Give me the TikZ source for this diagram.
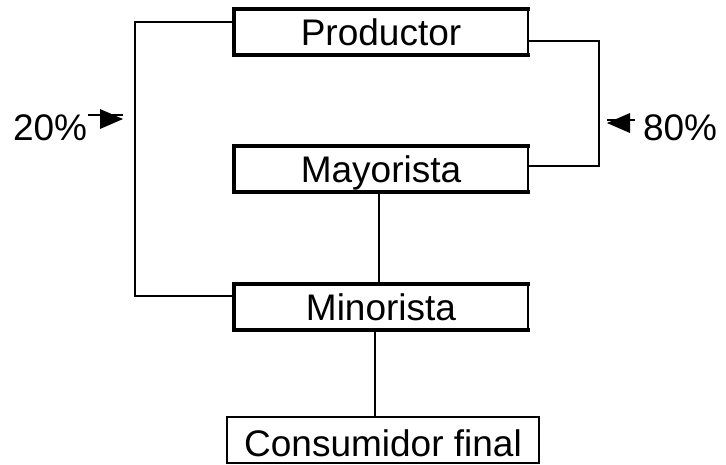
\documentclass[tikz,border=0pt]{standalone}
\usepackage{fontspec}
\setmainfont{Liberation Sans}
\begin{document}
\begin{tikzpicture}[x=1pt,y=-1pt,
  every node/.style={inner sep=0pt, outer sep=0pt, font=\fontsize{37}{40}\selectfont},
  stagebox/.style={minimum width=294pt, minimum height=46pt, text height=27pt, text depth=0pt},
  heavyedge/.style={line width=3.6pt, line cap=rect},
  lightedge/.style={line width=1.6pt},
  link/.style={line width=1.6pt},
  tip/.style={fill=black}]
\useasboundingbox (0,0) rectangle (726,464);

% channel stages
\node[stagebox] (prod) at (381,32) {Productor};
\node[stagebox] (may)  at (381,169) {Mayorista};
\node[stagebox] (min)  at (381,307) {Minorista};
\node[minimum width=312pt, minimum height=46pt, text height=33pt, text depth=0pt]
  (cons) at (383,440) {Consumidor final};

% stage frames: heavy top, left and bottom, light right side
\foreach \b in {prod,may,min}{
  \draw[heavyedge] (\b.north east) -- (\b.north west) -- (\b.south west) -- (\b.south east);
  \draw[lightedge] (\b.north east) -- (\b.south east);
}
\draw[lightedge] (cons.south west) rectangle (cons.north east);

% direct route producer -> retailer (left bracket)
\coordinate (lt) at (135,22);
\coordinate (lb) at (135,296);
\draw[link] (prod.west |- lt) -- (lt) -- (lb) -- (min.west |- lb);

% route producer -> wholesaler (right bracket)
\coordinate (rt) at (599,41);
\coordinate (rb) at (599,166);
\draw[link] (prod.east |- rt) -- (rt) -- (rb) -- (may.east |- rb);

% chain downwards
\draw[link] (379,192) coordinate (m1) -- (m1 |- min.north);
\draw[link] (375,330) coordinate (c1) -- (c1 |- cons.north);

% shares
\node[anchor=base west] (p20) at (13,140) {20\%};
\node[anchor=base west] (p80) at (643,140) {80\%};
\coordinate (a20s) at (88,115);
\coordinate (a20e) at (123,119);
\draw[link] (a20s) -- (a20s -| a20e);
\fill[tip] (a20e) -- ++(-23,-10) -- ++(0,20) -- cycle;
\coordinate (a80s) at (635,120);
\coordinate (a80e) at (607,123);
\draw[link] (a80s) -- (a80s -| a80e);
\fill[tip] (a80e) -- ++(23,-10) -- ++(0,20) -- cycle;
\end{tikzpicture}
\end{document}
